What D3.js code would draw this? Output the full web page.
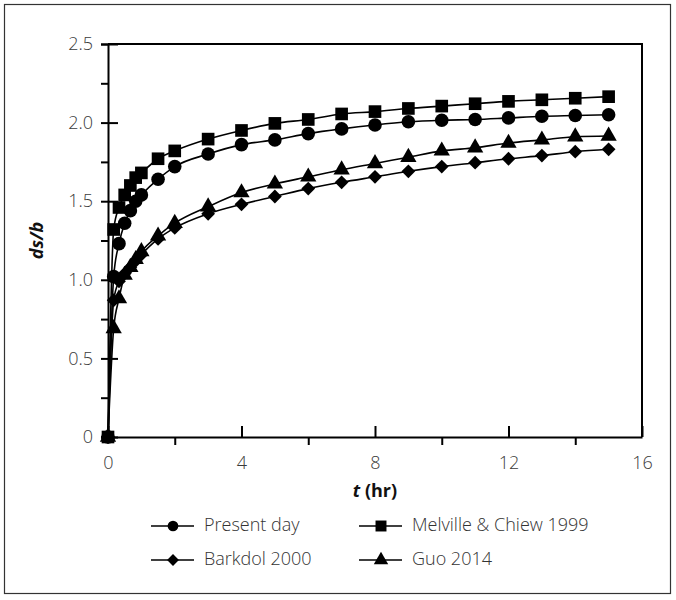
<!DOCTYPE html>
<html>
<head>
<meta charset="utf-8">
<script src="https://cdn.jsdelivr.net/npm/d3@7/dist/d3.min.js"></script>
<style>
  html, body { margin: 0; padding: 0; background: #fff; }
  svg { display: block; }
  text { font-family: "Open Sans", "Noto Sans", sans-serif; }
  .light { font-weight: 300; }
</style>
</head>
<body>
<svg id="chart" width="676" height="600"></svg>
<script>
// Elapsed time (hr) at which scour depth was recorded
const hours = [0, 0.17, 0.33, 0.5, 0.67, 0.83, 1, 1.5, 2, 3, 4, 5, 6, 7, 8, 9, 10, 11, 12, 13, 14, 15];

// Normalised scour depth ds/b for each method
const presentDay = [0, 1.02, 1.23, 1.36, 1.44, 1.50, 1.54, 1.64, 1.72, 1.80, 1.86, 1.89, 1.93, 1.96, 1.985, 2.005, 2.015, 2.02, 2.03, 2.04, 2.045, 2.05];
const melvilleChiew = [0, 1.32, 1.46, 1.54, 1.60, 1.65, 1.68, 1.77, 1.82, 1.895, 1.95, 1.995, 2.02, 2.055, 2.07, 2.09, 2.105, 2.12, 2.135, 2.145, 2.155, 2.165];
const barkdol = [0, 0.87, 0.99, 1.04, 1.08, 1.12, 1.16, 1.26, 1.33, 1.42, 1.48, 1.53, 1.58, 1.62, 1.655, 1.69, 1.72, 1.745, 1.77, 1.79, 1.815, 1.83];
const guo = [0, 0.69, 0.88, 1.03, 1.08, 1.13, 1.18, 1.28, 1.36, 1.465, 1.555, 1.61, 1.655, 1.70, 1.74, 1.78, 1.82, 1.84, 1.87, 1.89, 1.91, 1.915];

const seriesNames = ["Present day", "Melville & Chiew 1999", "Barkdol 2000", "Guo 2014"];
const xMajorTicks = [0, 4, 8, 12, 16];
const xMinorTicks = [2, 6, 10, 14];
const yMajorTicks = [0, 0.5, 1.0, 1.5, 2.0, 2.5];
const yMinorTicks = [0.25, 0.75, 1.25, 1.75, 2.25];

// Diamond: a square turned 45 degrees
const symbolRhombus = {
  draw(context, size) {
    const r = Math.sqrt(size / 2);
    context.moveTo(0, -r);
    context.lineTo(r, 0);
    context.lineTo(0, r);
    context.lineTo(-r, 0);
    context.closePath();
  }
};

const series = [
  { name: seriesNames[0], values: presentDay, symbol: d3.symbolCircle, size: 145, legendSize: 90 },
  { name: seriesNames[1], values: melvilleChiew, symbol: d3.symbolSquare, size: 160, legendSize: 120 },
  { name: seriesNames[2], values: barkdol, symbol: symbolRhombus, size: 95, legendSize: 70 },
  { name: seriesNames[3], values: guo, symbol: d3.symbolTriangle, size: 115, legendSize: 90 }
];

const svg = d3.select("#chart");
const margin = { left: 108, right: 34, top: 44, bottom: 163 };
const W = 676, H = 600;
const plotW = W - margin.left - margin.right;
const plotH = H - margin.top - margin.bottom;

// Outer frame
svg.append("rect")
  .attr("x", 4.5).attr("y", 4.5)
  .attr("width", 666).attr("height", 589)
  .attr("fill", "none").attr("stroke", "#333").attr("stroke-width", 1.2);

const x = d3.scaleLinear().domain([0, 16]).range([margin.left, margin.left + plotW]);
const y = d3.scaleLinear().domain([0, 2.5]).range([margin.top + plotH, margin.top]);

const g = svg.append("g");

// Plot box (top and right edges)
g.append("path")
  .attr("d", `M${x(0)},${y(2.5)}H${x(16)}V${y(0)}`)
  .attr("fill", "none").attr("stroke", "#000").attr("stroke-width", 2);

// X axis: major ticks point inward, minor ticks outward
const xAxisMajor = d3.axisBottom(x).tickValues(xMajorTicks).tickSizeInner(-11).tickSizeOuter(0).tickFormat(d3.format("d"));
const gx = g.append("g").attr("transform", `translate(0,${y(0)})`).call(xAxisMajor);
gx.select(".domain").attr("stroke-width", 2);
gx.selectAll(".tick line").attr("stroke-width", 2);
gx.selectAll(".tick text").attr("class", "light").attr("font-size", 18).attr("fill", "#3a3a3a").attr("dy", "0.35em").attr("y", 26);

const gxMinor = g.append("g").attr("transform", `translate(0,${y(0)})`)
  .call(d3.axisBottom(x).tickValues(xMinorTicks).tickSize(8).tickFormat(""));
gxMinor.select(".domain").remove();
gxMinor.selectAll(".tick line").attr("stroke-width", 2);

// Y axis: major ticks cross the axis, minor ticks outward
const gy = g.append("g").attr("transform", `translate(${x(0)},0)`)
  .call(d3.axisLeft(y).tickValues(yMajorTicks).tickSize(7).tickPadding(8)
    .tickFormat(d => d === 0 ? "0" : d3.format(".1f")(d)));
gy.select(".domain").attr("stroke-width", 2);
gy.selectAll(".tick line").attr("stroke-width", 2).attr("x2", 10).attr("x1", -7);
gy.selectAll(".tick text").attr("class", "light").attr("font-size", 18).attr("fill", "#3a3a3a").attr("x", -15);

const gyMinor = g.append("g").attr("transform", `translate(${x(0)},0)`)
  .call(d3.axisLeft(y).tickValues(yMinorTicks).tickSize(7).tickFormat(""));
gyMinor.select(".domain").remove();
gyMinor.selectAll(".tick line").attr("stroke-width", 2);

// Axis titles
svg.append("text")
  .attr("transform", `translate(43,${y(1.25)}) rotate(-90)`)
  .attr("text-anchor", "middle")
  .attr("font-size", 18).attr("font-weight", "bold").attr("font-style", "italic")
  .attr("fill", "#111")
  .text("ds/b");

const xt = svg.append("text")
  .attr("x", x(8)).attr("y", 492)
  .attr("text-anchor", "middle")
  .attr("dominant-baseline", "middle")
  .attr("font-size", 18).attr("font-weight", "bold").attr("fill", "#111");
xt.append("tspan").attr("font-style", "italic").text("t");
xt.append("tspan").text(" (hr)");

// Series lines and markers
const line = d3.line().x((d, i) => x(hours[i])).y(d => y(d)).curve(d3.curveMonotoneX);

series.forEach(s => {
  g.append("path")
    .datum(s.values)
    .attr("d", line)
    .attr("fill", "none").attr("stroke", "#000").attr("stroke-width", 1.6);
});
series.forEach(s => {
  const sym = d3.symbol().type(s.symbol).size(s.size);
  g.append("g").selectAll("path")
    .data(s.values)
    .join("path")
    .attr("transform", (d, i) => `translate(${x(hours[i])},${y(d)})`)
    .attr("d", sym)
    .attr("fill", "#000");
});

// Legend, two columns by two rows
const legendCols = [151, 359];
const legendRows = [526, 560];
series.forEach((s, i) => {
  const lx = legendCols[i % 2], ly = legendRows[Math.floor(i / 2)];
  const lg = svg.append("g").attr("transform", `translate(${lx},${ly})`);
  lg.append("line").attr("x1", 0).attr("x2", 43).attr("y1", 0).attr("y2", 0)
    .attr("stroke", "#000").attr("stroke-width", 1.6);
  lg.append("path").attr("transform", "translate(22,0)")
    .attr("d", d3.symbol().type(s.symbol).size(s.legendSize)).attr("fill", "#000");
  lg.append("text").attr("class", "light").attr("x", 53).attr("y", 0).attr("dominant-baseline", "middle")
    .attr("font-size", 18).attr("fill", "#333").text(s.name);
});
</script>
</body>
</html>
